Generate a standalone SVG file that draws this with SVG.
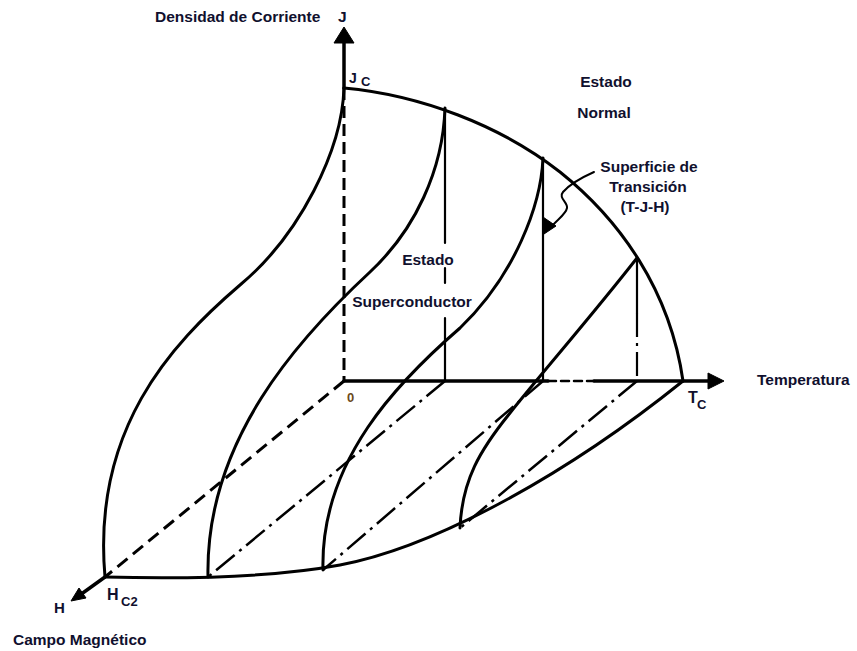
<svg xmlns="http://www.w3.org/2000/svg" width="857" height="651" viewBox="0 0 857 651">
<defs>
<style>
.ln{fill:none;stroke:#000;stroke-linecap:round;stroke-linejoin:round}
.c{stroke-width:3}
.v{stroke-width:2.2}
.ax{stroke-width:3.5}
.dash{stroke-width:3;stroke-dasharray:13 7;stroke-linecap:butt}
.dd{stroke-width:2.5;stroke-dasharray:24 6 3 6;stroke-linecap:butt}
.ah{fill:#000;stroke:#000;stroke-width:1;stroke-linejoin:round}
text{font-family:"Liberation Sans",Arial,sans-serif;font-weight:bold;fill:#10102e;font-size:15.5px}
.m{text-anchor:middle}
</style>
</defs>
<rect width="857" height="651" fill="#fff"/>

<g id="axes">
  <path class="ln ax" d="M344,88 V40"/>
  <polygon class="ah" points="344,27 334,43 354,43"/>
  <path class="ln dash" d="M344,88 V381" style="stroke-dasharray:12 6"/>
  <path class="ln ax" d="M344,381 H548 M594,381 H712"/>
  <path class="ln" d="M548,381 H594" style="stroke-width:2.5;stroke-dasharray:8 5"/>
  <polygon class="ah" points="724,381 708,373 708,389"/>
  <path class="ln dash" d="M344,381 L105,577"/>
  <path class="ln ax" d="M105,577 L80,595"/>
  <polygon class="ah" points="71,601 79,588 86,598"/>
</g>

<g id="critical-curves">
  <path id="jc-tc" class="ln c" d="M344,88 C420,95 500,125 560,172 C620,220 670,290 683,381"/>
  <path id="hc2-tc" class="ln c" d="M105,577 C180,579 270,578 340,565 C430,548 560,480 683,381"/>
  <path id="jc-hc2" class="ln c" d="M344,88 C342,150 300,235 240,285 C170,345 92,430 105,577"/>
</g>

<g id="slices">
  <path id="slice1" class="ln c" d="M445,108 C443,170 415,230 370,272 C300,337 205,440 208,577"/>
  <path id="slice2" class="ln c" d="M543,158 C541,205 515,275 460,328 C400,380 320,460 323,570"/>
  <path id="slice3" class="ln c" d="M637,258 C590,318 540,375 510,413 C480,450 462,480 460,528"/>
  <path class="ln v" d="M445,108 V243 M445,268 V283 M445,318 V381"/>
  <path class="ln v" d="M543,158 V381"/>
  <path class="ln v" d="M637,257 V313"/>
  <path class="ln dd" d="M637,313 V381" style="stroke-width:2.2"/>
  <path class="ln dd" d="M445,381 L208,577"/>
  <path class="ln dd" d="M543,381 L323,570"/>
  <path class="ln dd" d="M637,381 L460,528"/>
</g>

<g id="leader">
  <path class="ln" style="stroke-width:2" d="M594,172 C585,176 570,184 563,192 C558,198 568,202 567,208 C566,214 558,219 552,226"/>
  <polygon class="ah" points="544,234 543,217 556,226"/>
</g>

<g id="labels">
  <text x="155" y="22">Densidad de Corriente</text>
  <text x="338" y="22">J</text>
  <text x="349" y="83" style="font-size:14px">J</text>
  <text x="361" y="86" style="font-size:13px">C</text>
  <text x="606" y="87" class="m">Estado</text>
  <text x="604" y="118" class="m">Normal</text>
  <text x="649" y="172" class="m">Superficie de</text>
  <text x="648" y="192" class="m">Transición</text>
  <text x="645" y="212" class="m">(T-J-H)</text>
  <text x="428" y="265" class="m">Estado</text>
  <text x="412" y="307" class="m">Superconductor</text>
  <text x="757" y="385">Temperatura</text>
  <text x="347" y="402" style="font-size:13px;fill:#6b4a1a">0</text>
  <text x="688" y="403" style="font-size:16px">T</text>
  <text x="697" y="409" style="font-size:13px">C</text>
  <text x="54" y="613" style="font-size:15px">H</text>
  <text x="107" y="600" style="font-size:16px">H</text>
  <text x="121" y="606" style="font-size:13px">C2</text>
  <text x="13" y="645">Campo Magnético</text>
</g>
</svg>
